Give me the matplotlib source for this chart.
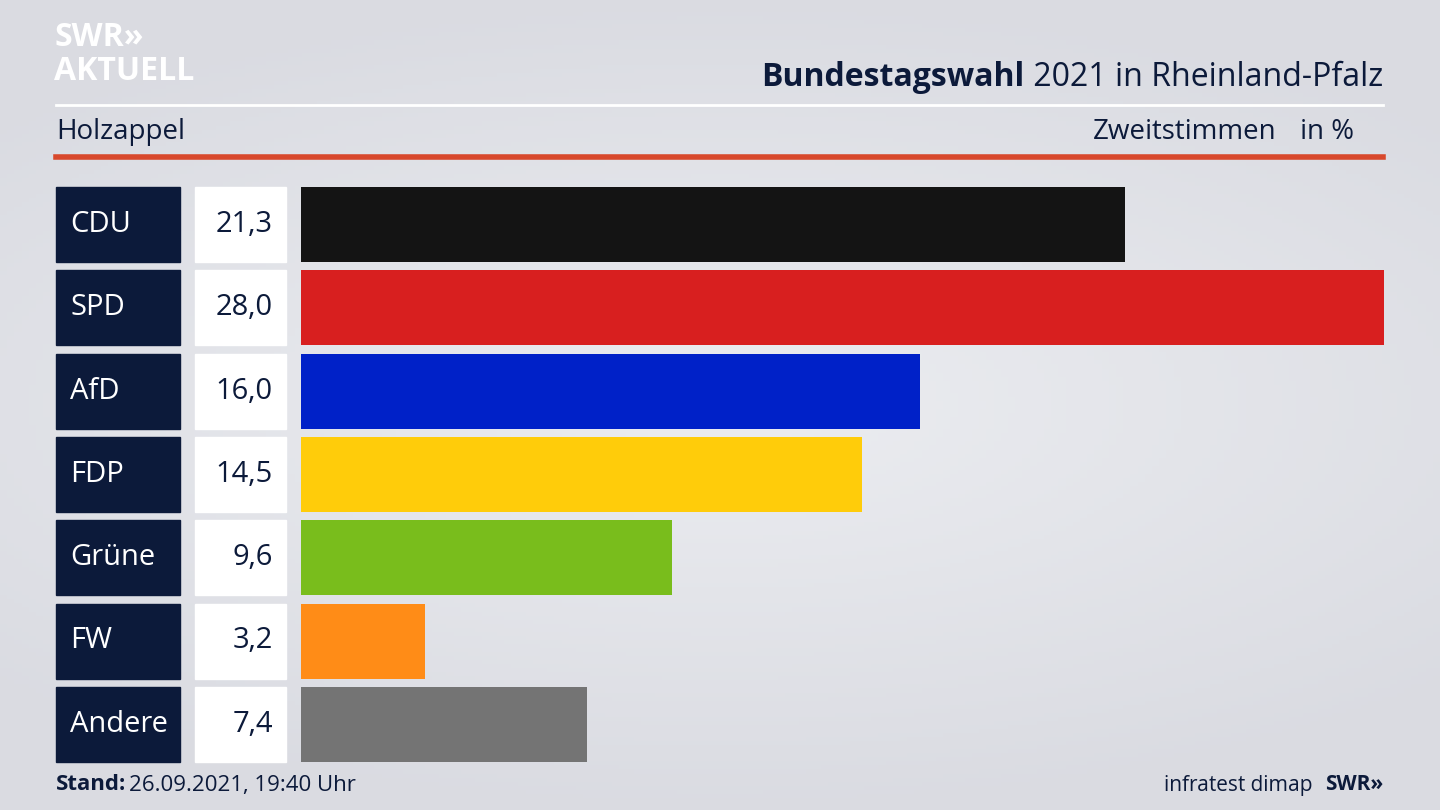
import numpy as np
import matplotlib.pyplot as plt
from matplotlib.patches import Rectangle

# ============================================================
# DATA
# ============================================================

parties = ["CDU", "SPD", "AfD", "FDP", "Grüne", "FW", "Andere"]
values = [21.3, 28.0, 16.0, 14.5, 9.6, 3.2, 7.4]
labels = ["21,3", "28,0", "16,0", "14,5", "9,6", "3,2", "7,4"]
colors = ["#141414", "#d81f1f", "#0021c8", "#ffcc0a", "#79bd1c", "#ff8c17", "#747474"]

W, H = 1440, 810
navy = "#0c1a3a"
font = "Open Sans"

fig = plt.figure(figsize=(14.4, 8.1), dpi=100)

# ============================================================
# BACKGROUND
# ============================================================

bg = fig.add_axes([0, 0, 1, 1])
yy = np.linspace(-1, 1, 200)[:, None]
xx = np.linspace(-1, 1, 200)[None, :]
t = 1 - np.clip(np.sqrt(xx**2 * 0.5 + yy**2), 0, 1)
img = np.zeros((200, 200, 3))
for k, (a, b) in enumerate([(0.855, 0.925), (0.86, 0.93), (0.885, 0.945)]):
    img[:, :, k] = a + (b - a) * t
bg.imshow(img, extent=[0, W, H, 0], aspect="auto")
bg.set_xlim(0, W)
bg.set_ylim(H, 0)
bg.axis("off")

# header
bg.text(54, 37, "SWR»", fontsize=23, fontweight="bold", color="white",
        family=font, va="center")
bg.text(54, 72, "AKTUELL", fontsize=23, fontweight="bold", color="white",
        family=font, va="center")
t2 = bg.text(1383, 77, " 2021 in Rheinland-Pfalz", fontsize=23, color=navy,
             family=font, ha="right", va="center")
fig.canvas.draw()
bb = t2.get_window_extent()
x0 = bg.transData.inverted().transform((bb.x0, 0))[0]
bg.text(x0, 77, "Bundestagswahl", fontsize=23, fontweight="bold", color=navy,
        family=font, ha="right", va="center")
bg.plot([56, 1383], [105, 105], color="white", lw=2)
bg.text(56, 132, "Holzappel", fontsize=20, color=navy, family=font, va="center")
bg.text(1276, 132, "Zweitstimmen", fontsize=20, color=navy, family=font,
        ha="right", va="center")
bg.text(1354, 132, "in %", fontsize=20, color=navy, family=font,
        ha="right", va="center")
bg.plot([56, 1383], [157, 157], color="#d8482c", lw=4)

# label boxes
for i, (p, lab) in enumerate(zip(parties, labels)):
    yc = 224.5 + i * 83.3
    bg.add_patch(Rectangle((56, yc - 37.5), 124, 75, color=navy))
    bg.add_patch(Rectangle((195, yc - 37.5), 91, 75, color="white"))
    bg.text(70, yc, p, fontsize=21, color="white", family=font, va="center")
    bg.text(273, yc, lab, fontsize=21, color=navy, family=font,
            ha="right", va="center")

# footer
bg.text(56, 785, "Stand:", fontsize=16, fontweight="bold", color=navy,
        family=font, va="center")
bg.text(129, 785, "26.09.2021, 19:40 Uhr", fontsize=16, color=navy,
        family=font, va="center")
bg.text(1312, 785, "infratest dimap", fontsize=15, color=navy,
        family=font, ha="right", va="center")
bg.text(1383, 785, "SWR»", fontsize=15, fontweight="bold", color=navy,
        family=font, ha="right", va="center")

# ============================================================
# BARS
# ============================================================

ax = fig.add_axes([301 / W, 1 - 762 / H, (1384 - 301) / W, (762 - 187) / H])
ax.barh(range(len(values)), values, height=0.9, color=colors)
ax.set_xlim(0, max(values))
ax.set_ylim(len(values) - 0.55, -0.45)
ax.axis("off")

fig.savefig("out.png", dpi=100)
